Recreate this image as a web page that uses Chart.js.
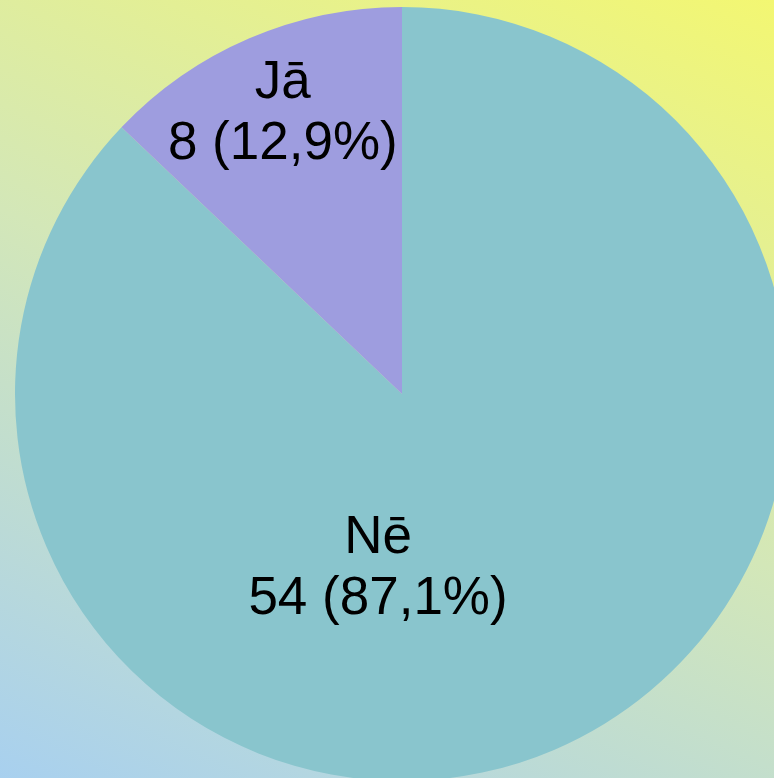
<!DOCTYPE html>
<html>
<head>
<meta charset="utf-8">
<script src="https://cdn.jsdelivr.net/npm/chart.js@4/dist/chart.umd.min.js"></script>
<style>
  html, body { margin: 0; padding: 0; overflow: hidden; }
  #page {
    position: relative;
    width: 774px;
    height: 778px;
    overflow: hidden;
    background: linear-gradient(25deg, #a8d0ef 0%, #d3e7b8 50%, #f3f772 100%);
  }
  #wrap { position: absolute; left: 0; top: 0; width: 804px; height: 788px; }
</style>
</head>
<body>
<div id="page">
  <div id="wrap"><canvas id="pieChart"></canvas></div>
</div>
<script>
const categories = ["Nē", "Jā"];
const counts = [54, 8];
const percentLabels = ["87,1%", "12,9%"];
const sliceColors = ["#89c5cd", "#9e9ddf"];
// label anchor relative to pie centre, as fraction of radius
const labelOffsets = [[-0.062, 0.49], [-0.308, -0.684]];

const sliceLabels = {
  id: "sliceLabels",
  afterDatasetsDraw(chart) {
    const ctx = chart.ctx;
    const meta = chart.getDatasetMeta(0);
    ctx.save();
    ctx.font = "53px 'Liberation Sans', Arial, sans-serif";
    ctx.fillStyle = "#000";
    ctx.textAlign = "center";
    ctx.textBaseline = "alphabetic";
    meta.data.forEach((arc, i) => {
      const r = arc.outerRadius;
      const x = arc.x + labelOffsets[i][0] * r;
      const y = arc.y + labelOffsets[i][1] * r;
      ctx.fillText(categories[i], x, y - 31);
      ctx.fillText(counts[i] + " (" + percentLabels[i] + ")", x, y + 30);
    });
    ctx.restore();
  }
};

new Chart(document.getElementById("pieChart"), {
  type: "pie",
  data: {
    labels: categories,
    datasets: [{
      data: counts,
      backgroundColor: sliceColors,
      borderWidth: 0,
      hoverOffset: 0
    }]
  },
  options: {
    responsive: true,
    maintainAspectRatio: false,
    animation: false,
    events: [],
    layout: { padding: 7 },
    plugins: {
      legend: { display: false },
      tooltip: { enabled: false }
    }
  },
  plugins: [sliceLabels]
});
</script>
</body>
</html>
